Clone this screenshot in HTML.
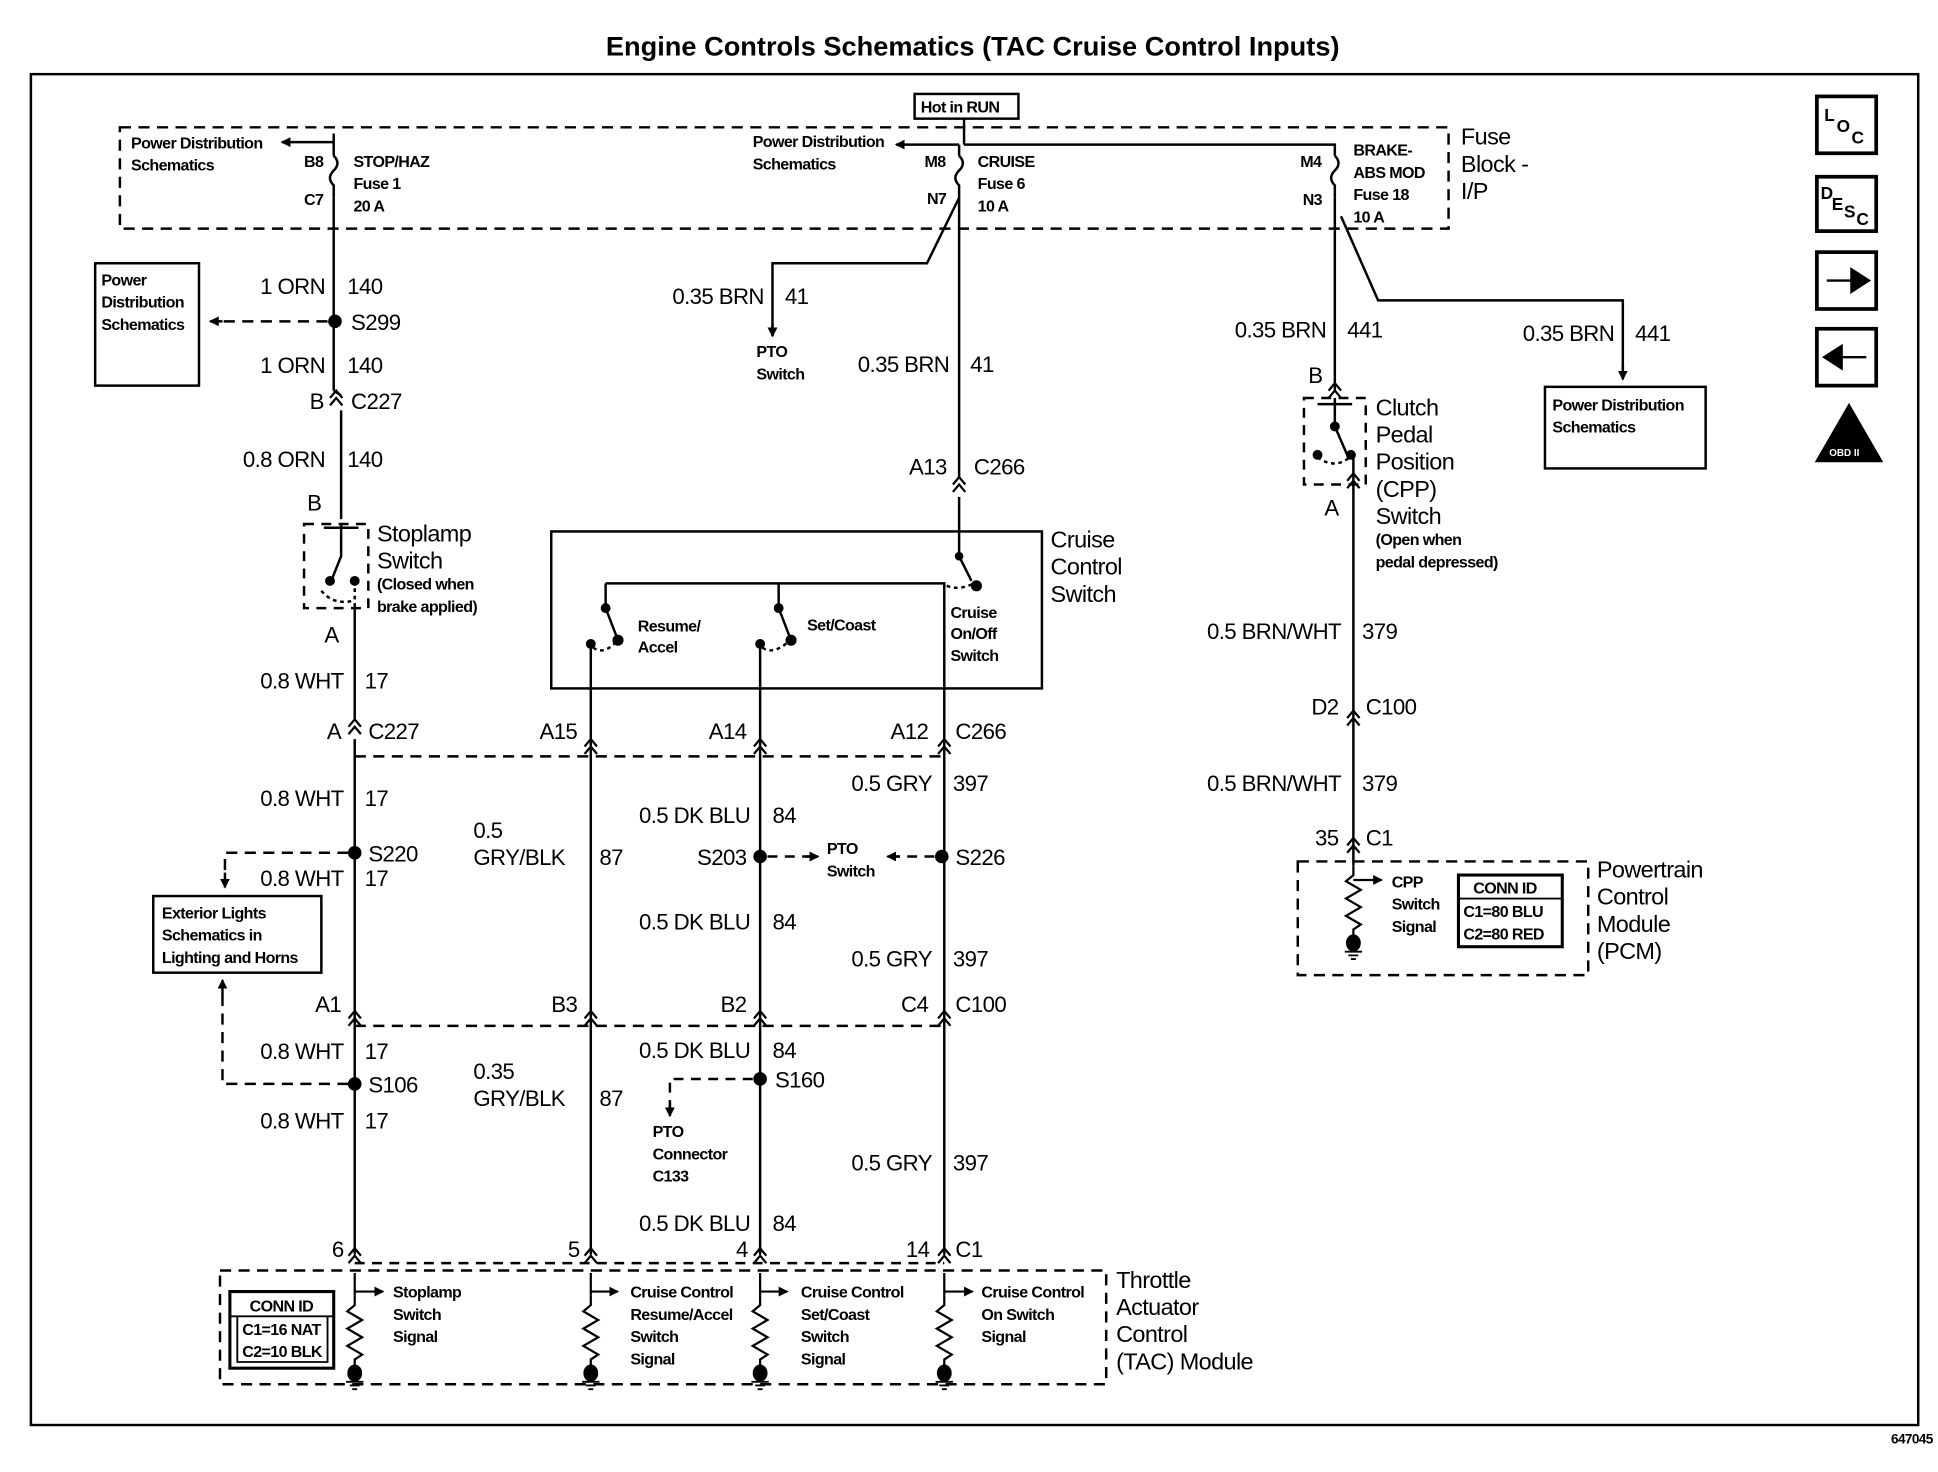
<!DOCTYPE html>
<html><head><meta charset="utf-8"><style>
html,body{margin:0;padding:0;background:#fff;}
svg{display:block;}
text{font-family:"Liberation Sans",Arial,sans-serif;fill:#000;}
.b{font-size:18px;letter-spacing:-0.5px;}
.s{font-size:13px;font-weight:bold;letter-spacing:-0.5px;}
.m{font-size:19px;letter-spacing:-0.5px;}
</style></head><body>
<svg width="1938" height="1472" viewBox="0 0 1568 1191" preserveAspectRatio="none" xmlns="http://www.w3.org/2000/svg">
<defs>
<marker id="ar" markerWidth="8" markerHeight="8" refX="7" refY="4" orient="auto" markerUnits="userSpaceOnUse"><path d="M0,0 L8,4 L0,8z"/></marker>
<g id="cn"><path d="M-5,4 L0,-2 L5,4 M-5,10 L0,4 L5,10" fill="none" stroke="#000" stroke-width="1.8"/></g>
<g id="dot"><circle r="5.5"/></g>
<g id="res"><path d="M0,0 L0,8 L-6,13 L6,20 L-6,27 L6,34 L-6,41 L6,48 L0,52 L0,58" fill="none" stroke="#000" stroke-width="1.8"/><ellipse cx="0" cy="63" rx="5" ry="6"/><path d="M-7,70 H7 M-4,73 H4 M-2,76 H2" stroke="#000" stroke-width="1.5"/></g>
</defs>
<g stroke="#000" fill="none" stroke-width="2">
<text x="787" y="45" text-anchor="middle" style="font-size:22px;font-weight:bold;stroke:none">Engine Controls Schematics (TAC Cruise Control Inputs)</text>
<rect x="25" y="60" width="1527" height="1093" stroke-width="2"/>
<rect x="97" y="103" width="1075" height="82" stroke-dasharray="9,6"/>
<rect x="740" y="76" width="84" height="20" stroke-width="2"/>
<path d="M780,96 V117 M780,117 H1080 V126 M776,117 V126"/>
<path d="M776,117 H725" marker-end="url(#ar)"/>
<path d="M270,108 V126 M270,115 H228" marker-end="url(#ar)"/>
<path d="M270,126 q6,6 0,12 q-6,6 0,12 V160 M776,126 q6,6 0,12 q-6,6 0,12 V160 M1080,126 q6,6 0,12 q-6,6 0,12 V160"/>
<path d="M270,160 V316 M276,332 V420"/>
<use href="#cn" x="272" y="318"/>
<path d="M270,316 L276,320"/>
<path d="M265,260 H176" stroke-dasharray="9,6"/>
<path d="M180,260 H170" marker-end="url(#ar)"/>
<use href="#dot" x="271" y="260" stroke="none" fill="#000"/>
<rect x="77" y="213" width="84" height="99"/>
<rect x="246" y="424" width="52" height="68" stroke-dasharray="8,6"/>
<path d="M276,424 V450 L268,470 M262,427 H290"/>
<circle cx="267" cy="470" r="3" fill="#000"/>
<circle cx="287" cy="470" r="3" fill="#000"/>
<path d="M287,470 V493 M260,478 q10,12 26,8" stroke-dasharray="3,3"/>
<path d="M287,493 V582 M287,598 V1015"/>
<use href="#cn" x="287" y="584"/>
<path d="M287,612 H764 M287,830 H764" stroke-dasharray="9,6"/>
<use href="#dot" x="287" y="690" stroke="none" fill="#000"/>
<use href="#dot" x="287" y="877" stroke="none" fill="#000"/>
<path d="M282,690 H182 V716 M282,877 H180 V795" stroke-dasharray="9,6"/>
<path d="M182,706 V718" marker-end="url(#ar)"/>
<path d="M180,805 V793" marker-end="url(#ar)"/>
<rect x="124" y="725" width="136" height="62"/>
<use href="#cn" x="287" y="820"/>
<path d="M776,160 L750,213 H625 V272" />
<path d="M625,262 V272" marker-end="url(#ar)"/>
<path d="M776,160 V386 M776,402 V450 L786,470"/>
<use href="#cn" x="776" y="388"/>
<rect x="446" y="430" width="397" height="127"/>
<circle cx="776" cy="450" r="2.5" fill="#000"/><circle cx="790" cy="474" r="3.5" fill="#000"/>
<path d="M490,472 H764 V1015 M490,472 V492 L500,518 M630,472 V492 L640,518"/>
<circle cx="490" cy="492" r="3" fill="#000"/><circle cx="630" cy="492" r="3" fill="#000"/>
<circle cx="500" cy="518" r="3.5" fill="#000"/><circle cx="640" cy="518" r="3.5" fill="#000"/>
<circle cx="478" cy="521" r="3" fill="#000"/><circle cx="615" cy="521" r="3" fill="#000"/>
<path d="M478,521 V1015 M615,521 V1015"/>
<path d="M480,524 q8,6 18,-4 M617,524 q8,6 20,-4 M766,474 q10,4 22,-2" stroke-dasharray="3,3"/>
<use href="#cn" x="478" y="600"/><use href="#cn" x="615" y="600"/><use href="#cn" x="764" y="600"/>
<use href="#cn" x="478" y="820"/><use href="#cn" x="615" y="820"/><use href="#cn" x="764" y="820"/>
<use href="#dot" x="615" y="693" stroke="none" fill="#000"/>
<use href="#dot" x="762" y="693" stroke="none" fill="#000"/>
<path d="M621,693 H660 M756,693 H720" stroke-dasharray="8,6"/>
<path d="M652,693 H662" marker-end="url(#ar)"/>
<path d="M728,693 H718" marker-end="url(#ar)"/>
<use href="#dot" x="615" y="873" stroke="none" fill="#000"/>
<path d="M609,873 H542 V898" stroke-dasharray="8,6"/>
<path d="M542,892 V903" marker-end="url(#ar)"/>
<use href="#cn" x="287" y="1012"/><use href="#cn" x="478" y="1012"/><use href="#cn" x="615" y="1012"/><use href="#cn" x="764" y="1012"/>
<path d="M287,1022 H764" stroke-dasharray="8,6"/>
<rect x="178" y="1028" width="717" height="92" stroke-dasharray="9,6"/>
<g stroke-width="1.8">
<path d="M287,1030 V1048 M287,1045 H310" marker-end="url(#ar)"/>
<path d="M478,1030 V1048 M478,1045 H500" marker-end="url(#ar)"/>
<path d="M615,1030 V1048 M615,1045 H637" marker-end="url(#ar)"/>
<path d="M764,1030 V1048 M764,1045 H787" marker-end="url(#ar)"/>
</g>
<use href="#res" x="287" y="1048" fill="#000"/><use href="#res" x="478" y="1048" fill="#000"/><use href="#res" x="615" y="1048" fill="#000"/><use href="#res" x="764" y="1048" fill="#000"/>
<rect x="186" y="1045" width="84" height="62" stroke-width="2.5"/>
<path d="M186,1065 H270 M192,1065 V1102 H265 V1065" stroke-width="1.5"/>
<path d="M1080,160 V316 M1085,175 L1115,243 H1313 V305"/>
<path d="M1313,295 V307" marker-end="url(#ar)"/>
<rect x="1250" y="313" width="130" height="66"/>
<use href="#cn" x="1080" y="312"/>
<rect x="1055" y="322" width="50" height="70" stroke-dasharray="8,6"/>
<path d="M1080,322 V345 L1090,368 M1066,327 H1094"/>
<circle cx="1080" cy="345" r="3" fill="#000"/><circle cx="1093" cy="368" r="3" fill="#000"/>
<circle cx="1066" cy="368" r="3" fill="#000"/>
<path d="M1066,370 q14,10 26,0" stroke-dasharray="3,3"/>
<path d="M1095,368 V700"/>
<use href="#cn" x="1095" y="385"/>
<use href="#cn" x="1095" y="577"/>
<use href="#cn" x="1095" y="680"/>
<rect x="1050" y="697" width="235" height="92" stroke-dasharray="9,6"/>
<path d="M1095,712 H1118" marker-end="url(#ar)" stroke-width="1.8"/>
<use href="#res" x="1095" y="700" fill="#000"/>
<rect x="1180" y="708" width="84" height="58" stroke-width="2.5"/>
<path d="M1180,727 H1264" stroke-width="1.5"/>
<rect x="1470" y="78" width="48" height="46" stroke-width="3"/>
<rect x="1470" y="143" width="48" height="44" stroke-width="3"/>
<rect x="1470" y="204" width="48" height="46" stroke-width="3"/>
<rect x="1470" y="266" width="48" height="46" stroke-width="3"/>
<path d="M1478,227 H1498 V218 L1512,227 L1498,236 V227z" fill="#000"/>
<path d="M1510,289 H1490 V280 L1476,289 L1490,298 V289z" fill="#000"/>
<path d="M1496,328 L1522,373 H1470z" fill="#000"/>
</g>
<g stroke="none">
<text x="1476" y="98" class="s" style="font-size:14px">L</text><text x="1486" y="107" class="s" style="font-size:14px">O</text><text x="1498" y="116" class="s" style="font-size:14px">C</text>
<text x="1473" y="161" class="s" style="font-size:14px">D</text><text x="1482" y="170" class="s" style="font-size:14px">E</text><text x="1492" y="176" class="s" style="font-size:14px">S</text><text x="1502" y="182" class="s" style="font-size:14px">C</text>
<text x="1480" y="369" style="font-size:8px;fill:#fff;font-weight:bold">OBD II</text>
<text x="1530" y="1168" class="s" style="font-size:11px">647045</text>
<text x="745" y="91" class="s">Hot in RUN</text>
<text x="106" y="120" class="s">Power Distribution</text><text x="106" y="138" class="s">Schematics</text>
<text x="246" y="135" class="s">B8</text><text x="246" y="166" class="s">C7</text>
<text x="286" y="135" class="s">STOP/HAZ</text><text x="286" y="153" class="s">Fuse 1</text><text x="286" y="171" class="s">20 A</text>
<text x="609" y="119" class="s">Power Distribution</text><text x="609" y="137" class="s">Schematics</text>
<text x="748" y="135" class="s">M8</text><text x="750" y="165" class="s">N7</text>
<text x="791" y="135" class="s">CRUISE</text><text x="791" y="153" class="s">Fuse 6</text><text x="791" y="171" class="s">10 A</text>
<text x="1052" y="135" class="s">M4</text><text x="1054" y="166" class="s">N3</text>
<text x="1095" y="126" class="s">BRAKE-</text><text x="1095" y="144" class="s">ABS MOD</text><text x="1095" y="162" class="s">Fuse 18</text><text x="1095" y="180" class="s">10 A</text>
<text x="1182" y="117" class="m">Fuse</text><text x="1182" y="139" class="m">Block -</text><text x="1182" y="161" class="m">I/P</text>
<text x="82" y="231" class="s">Power</text><text x="82" y="249" class="s">Distribution</text><text x="82" y="267" class="s">Schematics</text>
<text x="263" y="238" class="b" text-anchor="end">1 ORN</text><text x="281" y="238" class="b">140</text>
<text x="284" y="267" class="b">S299</text>
<text x="263" y="302" class="b" text-anchor="end">1 ORN</text><text x="281" y="302" class="b">140</text>
<text x="262" y="331" class="b" text-anchor="end">B</text><text x="284" y="331" class="b">C227</text>
<text x="263" y="378" class="b" text-anchor="end">0.8 ORN</text><text x="281" y="378" class="b">140</text>
<text x="260" y="413" class="b" text-anchor="end">B</text>
<text x="305" y="438" class="m">Stoplamp</text><text x="305" y="460" class="m">Switch</text>
<text x="305" y="477" class="s">(Closed when</text><text x="305" y="495" class="s">brake applied)</text>
<text x="274" y="520" class="b" text-anchor="end">A</text>
<text x="278" y="557" class="b" text-anchor="end">0.8 WHT</text><text x="295" y="557" class="b">17</text>
<text x="276" y="598" class="b" text-anchor="end">A</text><text x="298" y="598" class="b">C227</text>
<text x="278" y="652" class="b" text-anchor="end">0.8 WHT</text><text x="295" y="652" class="b">17</text>
<text x="298" y="697" class="b">S220</text>
<text x="278" y="717" class="b" text-anchor="end">0.8 WHT</text><text x="295" y="717" class="b">17</text>
<text x="131" y="743" class="s">Exterior Lights</text><text x="131" y="761" class="s">Schematics in</text><text x="131" y="779" class="s">Lighting and Horns</text>
<text x="276" y="819" class="b" text-anchor="end">A1</text>
<text x="278" y="857" class="b" text-anchor="end">0.8 WHT</text><text x="295" y="857" class="b">17</text>
<text x="298" y="884" class="b">S106</text>
<text x="278" y="913" class="b" text-anchor="end">0.8 WHT</text><text x="295" y="913" class="b">17</text>
<text x="278" y="1017" class="b" text-anchor="end">6</text>
<text x="618" y="246" class="b" text-anchor="end">0.35 BRN</text><text x="635" y="246" class="b">41</text>
<text x="612" y="289" class="s">PTO</text><text x="612" y="307" class="s">Switch</text>
<text x="768" y="301" class="b" text-anchor="end">0.35 BRN</text><text x="785" y="301" class="b">41</text>
<text x="766" y="384" class="b" text-anchor="end">A13</text><text x="788" y="384" class="b">C266</text>
<text x="850" y="443" class="m">Cruise</text><text x="850" y="465" class="m">Control</text><text x="850" y="487" class="m">Switch</text>
<text x="516" y="511" class="s">Resume/</text><text x="516" y="528" class="s">Accel</text>
<text x="653" y="510" class="s">Set/Coast</text>
<text x="769" y="500" class="s">Cruise</text><text x="769" y="517" class="s">On/Off</text><text x="769" y="535" class="s">Switch</text>
<text x="467" y="598" class="b" text-anchor="end">A15</text>
<text x="604" y="598" class="b" text-anchor="end">A14</text>
<text x="751" y="598" class="b" text-anchor="end">A12</text><text x="773" y="598" class="b">C266</text>
<text x="754" y="640" class="b" text-anchor="end">0.5 GRY</text><text x="771" y="640" class="b">397</text>
<text x="383" y="678" class="b">0.5</text><text x="383" y="700" class="b">GRY/BLK</text><text x="485" y="700" class="b">87</text>
<text x="607" y="666" class="b" text-anchor="end">0.5 DK BLU</text><text x="625" y="666" class="b">84</text>
<text x="604" y="700" class="b" text-anchor="end">S203</text>
<text x="669" y="691" class="s">PTO</text><text x="669" y="709" class="s">Switch</text>
<text x="773" y="700" class="b">S226</text>
<text x="607" y="752" class="b" text-anchor="end">0.5 DK BLU</text><text x="625" y="752" class="b">84</text>
<text x="754" y="782" class="b" text-anchor="end">0.5 GRY</text><text x="771" y="782" class="b">397</text>
<text x="467" y="819" class="b" text-anchor="end">B3</text>
<text x="604" y="819" class="b" text-anchor="end">B2</text>
<text x="751" y="819" class="b" text-anchor="end">C4</text><text x="773" y="819" class="b">C100</text>
<text x="607" y="856" class="b" text-anchor="end">0.5 DK BLU</text><text x="625" y="856" class="b">84</text>
<text x="383" y="873" class="b">0.35</text><text x="383" y="895" class="b">GRY/BLK</text><text x="485" y="895" class="b">87</text>
<text x="627" y="880" class="b">S160</text>
<text x="528" y="920" class="s">PTO</text><text x="528" y="938" class="s">Connector</text><text x="528" y="956" class="s">C133</text>
<text x="754" y="947" class="b" text-anchor="end">0.5 GRY</text><text x="771" y="947" class="b">397</text>
<text x="607" y="996" class="b" text-anchor="end">0.5 DK BLU</text><text x="625" y="996" class="b">84</text>
<text x="469" y="1017" class="b" text-anchor="end">5</text>
<text x="605" y="1017" class="b" text-anchor="end">4</text>
<text x="752" y="1017" class="b" text-anchor="end">14</text><text x="773" y="1017" class="b">C1</text>
<text x="202" y="1061" class="s">CONN ID</text><text x="196" y="1080" class="s">C1=16 NAT</text><text x="196" y="1098" class="s">C2=10 BLK</text>
<text x="318" y="1050" class="s">Stoplamp</text><text x="318" y="1068" class="s">Switch</text><text x="318" y="1086" class="s">Signal</text>
<text x="510" y="1050" class="s">Cruise Control</text><text x="510" y="1068" class="s">Resume/Accel</text><text x="510" y="1086" class="s">Switch</text><text x="510" y="1104" class="s">Signal</text>
<text x="648" y="1050" class="s">Cruise Control</text><text x="648" y="1068" class="s">Set/Coast</text><text x="648" y="1086" class="s">Switch</text><text x="648" y="1104" class="s">Signal</text>
<text x="794" y="1050" class="s">Cruise Control</text><text x="794" y="1068" class="s">On Switch</text><text x="794" y="1086" class="s">Signal</text>
<text x="903" y="1042" class="m">Throttle</text><text x="903" y="1064" class="m">Actuator</text><text x="903" y="1086" class="m">Control</text><text x="903" y="1108" class="m">(TAC) Module</text>
<text x="1073" y="273" class="b" text-anchor="end">0.35 BRN</text><text x="1090" y="273" class="b">441</text>
<text x="1306" y="276" class="b" text-anchor="end">0.35 BRN</text><text x="1323" y="276" class="b">441</text>
<text x="1256" y="332" class="s">Power Distribution</text><text x="1256" y="350" class="s">Schematics</text>
<text x="1070" y="310" class="b" text-anchor="end">B</text>
<text x="1113" y="336" class="m">Clutch</text><text x="1113" y="358" class="m">Pedal</text><text x="1113" y="380" class="m">Position</text><text x="1113" y="402" class="m">(CPP)</text><text x="1113" y="424" class="m">Switch</text>
<text x="1113" y="441" class="s">(Open when</text><text x="1113" y="459" class="s">pedal depressed)</text>
<text x="1083" y="417" class="b" text-anchor="end">A</text>
<text x="1085" y="517" class="b" text-anchor="end">0.5 BRN/WHT</text><text x="1102" y="517" class="b">379</text>
<text x="1083" y="578" class="b" text-anchor="end">D2</text><text x="1105" y="578" class="b">C100</text>
<text x="1085" y="640" class="b" text-anchor="end">0.5 BRN/WHT</text><text x="1102" y="640" class="b">379</text>
<text x="1083" y="684" class="b" text-anchor="end">35</text><text x="1105" y="684" class="b">C1</text>
<text x="1126" y="718" class="s">CPP</text><text x="1126" y="736" class="s">Switch</text><text x="1126" y="754" class="s">Signal</text>
<text x="1192" y="723" class="s">CONN ID</text><text x="1184" y="742" class="s">C1=80 BLU</text><text x="1184" y="760" class="s">C2=80 RED</text>
<text x="1292" y="710" class="m">Powertrain</text><text x="1292" y="732" class="m">Control</text><text x="1292" y="754" class="m">Module</text><text x="1292" y="776" class="m">(PCM)</text>
</g>
</svg>
</body></html>
